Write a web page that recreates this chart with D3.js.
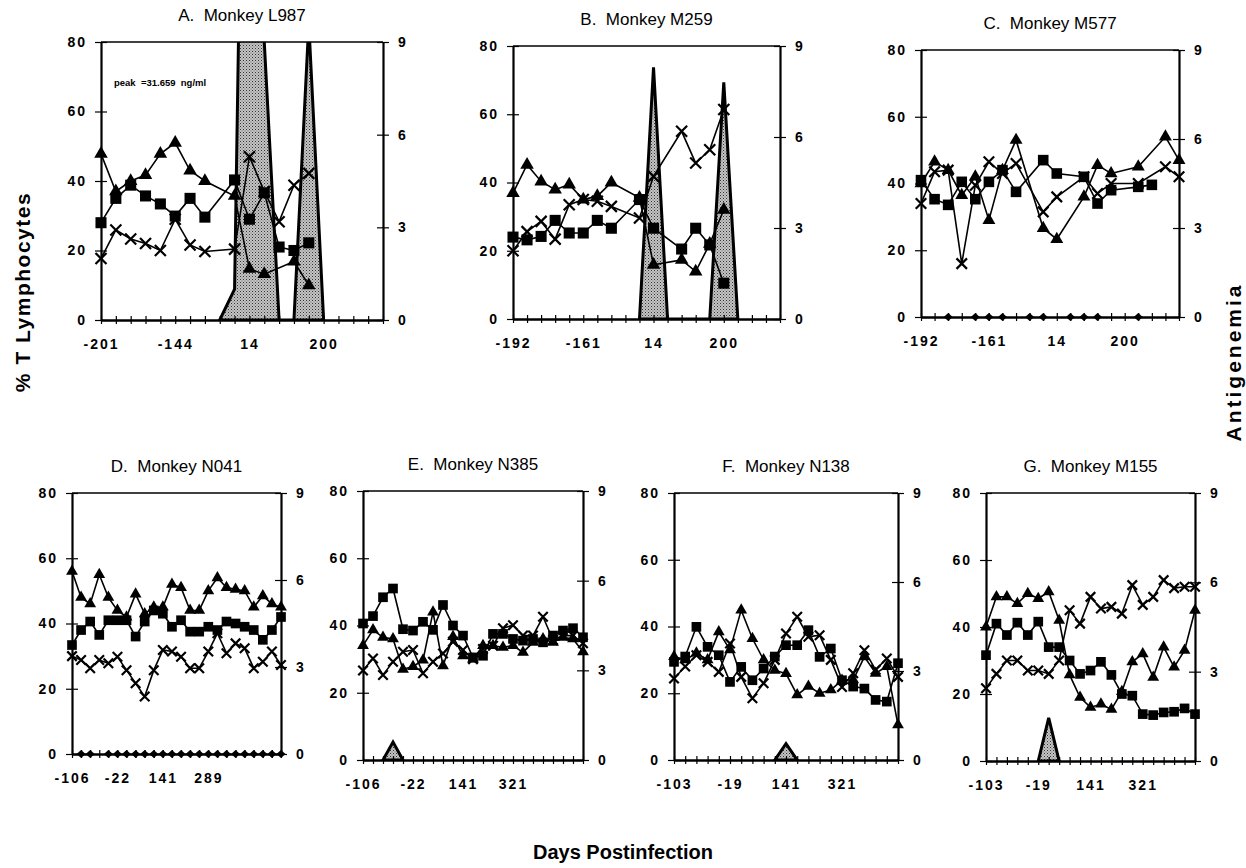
<!DOCTYPE html>
<html lang="en">
<head>
  <meta charset="UTF-8">
  <title>T lymphocytes and antigenemia</title>
  <script src="https://d3js.org/d3.v7.min.js"></script>
  <style>
    body { margin: 0; background: #fff; }
    text { font-family: "Liberation Sans", Arial, sans-serif; }
  </style>
</head>
<body>
  <script>
    // ---- data ----
    var titles = ["A.  Monkey L987", "B.  Monkey M259", "C.  Monkey M577",
                  "D.  Monkey N041", "E.  Monkey N385", "F.  Monkey N138", "G.  Monkey M155"];

    var dayLabels = [
      ["-201", "-144", "14", "200"],
      ["-192", "-161", "14", "200"],
      ["-192", "-161", "14", "200"],
      ["-106", "-22", "141", "289"],
      ["-106", "-22", "141", "321"],
      ["-103", "-19", "141", "321"],
      ["-103", "-19", "141", "321"]
    ];

    // squares
    var sqA = [28, 35, 38.8, 35.7, 33.4, 29.9, 35, 29.6, null, 40.3, 29, 36.6, 21, 20, 22.2, null, null, null, null, null];
    var sqB = [24, 23.2, 24.2, 28.9, 25.2, 25.2, 28.9, 26.6, null, 35, 26.6, null, 20.5, 26.6, 21.7, 10.5, null, null, null, null];
    var sqC = [41, 35.3, 33.6, 40.5, 35.3, 40.5, 44, 37.5, null, 47, 43, null, 42, 34, 38, null, 39, 39.6, null, null];
    var sqD = [33.4, 38, 40.6, 36.5, 41, 41, 41, 36, 40.6, 44, 43, 39, 41, 37.5, 37.5, 39, 38, 40.6, 40, 39, 38, 35, 38, 42];
    var sqE = [40.6, 42.8, 48.4, 51, 38.9, 38.5, 41.1, 38.7, 46.1, 40, 37, 30.5, 31, 37.5, 37.5, 36, 35.5, 36, 35, 37, 38.5, 39.2, 36.5];
    var sqF = [29.4, 31, 39.9, 33.9, 31.4, 23.4, 27.9, 23.9, 27.4, 31, 34.4, 34.4, 38.9, 30.9, 33.4, 23.9, 22, 21.4, 18, 17.5, 29];
    var sqG = [31.6, 41, 37.6, 41.3, 37.6, 41.6, 34, 34, 30, 26, 27, 29.6, 25.7, 20, 19.5, 14, 13.7, 14.5, 14.7, 15.7, 14];

    // triangles
    var triA = [47.8, 37, 40, 41.7, 47.8, 51, 43, 40, null, 35.7, 14.7, 13.2, null, 16.8, 10, null, null, null, null, null];
    var triB = [36.9, 45.2, 40.3, 37.9, 39.4, 35, 36, 40, null, 35.5, 15.9, null, 17.3, 13.9, 22, 32, null, null, null, null];
    var triC = [40, 46.5, 44, 36.5, 42, 29, 44, 53, null, 26.6, 23.3, null, 36, 45.5, 43, null, 45, null, 54, 47];
    var triD = [56, 48, 46, 55, 48, 44, 42, 49, 43, 45, 45, 52, 51, 44, 44, 50, 54, 51, 50.5, 50, 45, 48.5, 46, 45];
    var triE = [34, 38.7, 36.5, 36, 27, 27.8, 29.7, 44, 28, 36.7, 31, 30, 34, 34, 33.5, 34, 32, 35, 36, 35, 36.5, 36, 32.2];
    var triF = [31, 30, 32, 30, 38.4, 33, 44.9, 36.4, 30, 26.9, 25.9, 19.5, 22.1, 20, 21, 23.9, 24, 30.9, 26, 28, 10.5];
    var triG = [40, 49, 49, 47, 50, 48.5, 50.5, 42, 25.7, 19, 16, 17, 15.4, 20.7, 29.6, 32, 25, 34, 28, 33, 45];

    // crosses
    var crA = [17.7, 25.9, 23.3, 22, 20, 29, 21.6, 19.7, null, 20.4, 47, 37, 28.3, 38.8, 42.2, null, null, null, null, null];
    var crB = [20, 25.6, 28.6, 23.4, 33.5, 35, 34.5, 33, null, 29.6, 41.8, null, 55, 45.7, 49.6, 61.4, null, null, null, null];
    var crC = [34, 43.5, 44, 16, 39.5, 46.5, 43, 46, null, 31.5, 36, null, 42, 37, 40, null, 40, null, 45, 42];
    var crD = [30, 28.8, 26.3, 28.8, 27.8, 29.8, 25.7, 21.7, 17.6, 25.7, 31.9, 31.4, 29.8, 26.3, 26.3, 31.4, 37, 30.9, 33.9, 32.4, 26.3, 28.3, 31.4, 27.3];
    var crE = [26.6, 30.2, 25.3, 29.2, 32.2, 32.7, 25.8, 29.2, 31.7, 35.2, 32.7, 30, 33, 34, 39.2, 40.1, 37, 37, 42.6, 35.7, 37, 37, 34.7];
    var crF = [24.4, 28, 31.4, 29.4, 26.4, 34.9, 24.9, 18.5, 23, 30, 37.9, 42.9, 36.9, 37.4, 30, 21.9, 26, 32.9, 27, 30.4, 24.9];
    var crG = [21.7, 26, 30, 30, 27, 27, 26, 30, 45, 41, 49, 45.5, 46, 44, 52.5, 46.6, 49, 54, 51.6, 52, 52];

    // antigenemia (right axis, ng/ml)
    var agA = [null, null, null, null, null, null, null, null, 0, 1, 31.659, 9, 0, 0, 9.6, 0, null, null, null, null];
    var agB = [null, null, null, null, null, null, null, null, null, 0, 8.3, 0, 0, 0, 0, 7.8, 0, null, null, null];
    var agC = [null, null, 0, null, 0, 0, 0, null, 0, 0, null, 0, 0, 0, null, null, 0, null, null, null];
    var agD = [null, 0, 0, null, 0, 0, 0, 0, 0, 0, 0, 0, 0, 0, 0, 0, 0, 0, 0, 0, 0, 0, 0, 0];
    var agE = [null, null, 0, 0.6, 0, null, null, null, null, null, null, null, null, null, null, null, null, null, null, null, null, null, null];
    var agF = [null, null, null, null, null, null, null, null, null, 0, 0.55, 0, null, null, null, null, null, null, null, null, null];
    var agG = [null, null, null, null, null, 0, 1.45, 0, null, null, null, null, null, null, null, null, null, null, null, null, null];

    // ---- layout ----
    var panels = [
      { sq: sqA, tri: triA, cr: crA, ag: agA, agDots: false, x0: 101, x1: 383, y0: 42, y1: 320, m: 12 },
      { sq: sqB, tri: triB, cr: crB, ag: agB, agDots: false, x0: 513, x1: 780, y0: 46, y1: 319, m: 12 },
      { sq: sqC, tri: triC, cr: crC, ag: agC, agDots: true,  x0: 921, x1: 1179, y0: 50, y1: 317, m: 11.5 },
      { sq: sqD, tri: triD, cr: crD, ag: agD, agDots: true,  x0: 72, x1: 281, y0: 493, y1: 754, m: 10.5 },
      { sq: sqE, tri: triE, cr: crE, ag: agE, agDots: false, x0: 363, x1: 583, y0: 491, y1: 760, m: 10.5 },
      { sq: sqF, tri: triF, cr: crF, ag: agF, agDots: false, x0: 674, x1: 898, y0: 493, y1: 760, m: 10.5 },
      { sq: sqG, tri: triG, cr: crG, ag: agG, agDots: false, x0: 986, x1: 1195, y0: 493, y1: 761, m: 10.5 }
    ];

    var svg = d3.select("body").append("svg")
      .attr("width", 1246)
      .attr("height", 868);

    var defs = svg.append("defs");
    var pat = defs.append("pattern")
      .attr("id", "stipple")
      .attr("width", 3).attr("height", 3)
      .attr("patternUnits", "userSpaceOnUse");
    pat.append("rect").attr("width", 3).attr("height", 3).attr("fill", "#c4c4c4");
    pat.append("rect").attr("width", 1).attr("height", 1).attr("fill", "#333");
    pat.append("rect").attr("x", 1.5).attr("y", 1.5).attr("width", 1).attr("height", 1).attr("fill", "#666");

    function pts(arr) {
      return arr.map(function (v, i) { return { i: i, v: v }; })
                .filter(function (d) { return d.v != null; });
    }

    panels.forEach(function (p, k) {
      var n = p.sq.length;
      var x = d3.scalePoint().domain(d3.range(n)).range([p.x0, p.x1]);
      var y = d3.scaleLinear().domain([0, 80]).range([p.y1, p.y0]);
      var y2 = d3.scaleLinear().domain([0, 9]).range([p.y1, p.y0]);
      var g = svg.append("g");

      defs.append("clipPath").attr("id", "clip" + k)
        .append("rect")
        .attr("x", p.x0).attr("y", p.y0)
        .attr("width", p.x1 - p.x0).attr("height", p.y1 - p.y0);

      // title
      g.append("text")
        .attr("x", (p.x0 + p.x1) / 2)
        .attr("y", p.y0 - 21)
        .attr("text-anchor", "middle")
        .style("font-size", "17px")
        .style("white-space", "pre")
        .text(titles[k]);

      if (k === 0) {
        g.append("text")
          .attr("x", 114).attr("y", 86)
          .style("font-size", "9.5px")
          .style("font-weight", "bold")
          .style("white-space", "pre")
          .text("peak  =31.659  ng/ml");
      }

      // antigenemia
      var ag = pts(p.ag);
      if (p.agDots) {
        g.selectAll(".dia").data(ag).enter().append("path")
          .attr("d", "M-4.5,0L0,-4L4.5,0L0,4Z")
          .attr("transform", function (d) { return "translate(" + x(d.i) + "," + y2(d.v) + ")"; })
          .attr("fill", "#000");
      } else {
        var area = d3.area()
          .x(function (d) { return x(d.i); })
          .y0(y2(0))
          .y1(function (d) { return y2(d.v); });
        g.append("path")
          .datum(ag)
          .attr("d", area)
          .attr("clip-path", "url(#clip" + k + ")")
          .attr("fill", "url(#stipple)")
          .attr("stroke", "#000")
          .attr("stroke-width", 3)
          .attr("stroke-linejoin", "miter");
      }

      // axes
      var labels = dayLabels[k];
      var xAxis = d3.axisBottom(x)
        .tickValues(d3.range(n))
        .tickSizeInner(4).tickSizeOuter(0)
        .tickPadding(12)
        .tickFormat(function (i) { return (i % 5 === 0 && labels[i / 5]) ? labels[i / 5] : ""; });
      var gx = g.append("g").attr("transform", "translate(0," + p.y1 + ")").call(xAxis);
      gx.selectAll(".tick line").attr("y1", -4).attr("y2", 4).attr("stroke-width", 1.2);
      gx.select(".domain").attr("stroke-width", 2.5);

      var yAxis = d3.axisLeft(y).tickValues([0, 20, 40, 60, 80])
        .tickSizeInner(5).tickSizeOuter(0).tickPadding(9);
      var gy = g.append("g").attr("transform", "translate(" + p.x0 + ",0)").call(yAxis);
      gy.selectAll(".tick line").attr("x1", -6).attr("x2", 6).attr("stroke-width", 1.2);
      gy.select(".domain").attr("stroke-width", 2.2);

      var y2Axis = d3.axisRight(y2).tickValues([0, 3, 6, 9])
        .tickSizeInner(5).tickSizeOuter(0).tickPadding(10);
      var gy2 = g.append("g").attr("transform", "translate(" + p.x1 + ",0)").call(y2Axis);
      gy2.selectAll(".tick line").attr("x1", -6).attr("x2", 6).attr("stroke-width", 1.2);
      gy2.select(".domain").attr("stroke-width", 2.2);

      [gx, gy, gy2].forEach(function (a) {
        a.selectAll("text")
          .style("font-size", "14px")
          .style("font-weight", "bold")
          .style("letter-spacing", "2px")
          .attr("fill", "#000");
      });
      gx.selectAll("text").attr("dy", "0.9em");

      g.append("line")
        .attr("x1", p.x0).attr("x2", p.x1)
        .attr("y1", p.y0).attr("y2", p.y0)
        .attr("stroke", "#000").attr("stroke-width", 1.5);

      // series lines
      var line = d3.line()
        .x(function (d) { return x(d.i); })
        .y(function (d) { return y(d.v); });
      [p.cr, p.sq, p.tri].forEach(function (s) {
        g.append("path")
          .datum(pts(s))
          .attr("d", line)
          .attr("fill", "none")
          .attr("stroke", "#000")
          .attr("stroke-width", 1.6);
      });

      var m = p.m;
      // crosses
      var h = m / 2 - 0.5;
      g.selectAll(".cr").data(pts(p.cr)).enter().append("path")
        .attr("d", "M" + (-h) + "," + (-h) + "L" + h + "," + h + "M" + (-h) + "," + h + "L" + h + "," + (-h))
        .attr("transform", function (d) { return "translate(" + x(d.i) + "," + y(d.v) + ")"; })
        .attr("stroke", "#000")
        .attr("stroke-width", 2.2)
        .attr("fill", "none");
      // squares
      g.selectAll(".sq").data(pts(p.sq)).enter().append("path")
        .attr("d", d3.symbol().type(d3.symbolSquare).size(m * m * 0.85))
        .attr("transform", function (d) { return "translate(" + x(d.i) + "," + y(d.v) + ")"; })
        .attr("fill", "#000");
      // triangles
      g.selectAll(".tri").data(pts(p.tri)).enter().append("path")
        .attr("d", d3.symbol().type(d3.symbolTriangle).size(m * m * 0.55))
        .attr("transform", function (d) { return "translate(" + x(d.i) + "," + y(d.v) + ")"; })
        .attr("fill", "#000");
    });

    // shared axis titles
    svg.append("text")
      .attr("transform", "translate(30,292) rotate(-90)")
      .attr("text-anchor", "middle")
      .style("font-size", "21px").style("font-weight", "bold")
      .style("letter-spacing", "1.5px")
      .text("% T Lymphocytes");

    svg.append("text")
      .attr("transform", "translate(1241,362) rotate(-90)")
      .attr("text-anchor", "middle")
      .style("font-size", "21px").style("font-weight", "bold")
      .style("letter-spacing", "3px")
      .text("Antigenemia");

    svg.append("text")
      .attr("x", 623).attr("y", 859)
      .attr("text-anchor", "middle")
      .style("font-size", "20px").style("font-weight", "bold")
      .text("Days Postinfection");
  </script>
</body>
</html>
